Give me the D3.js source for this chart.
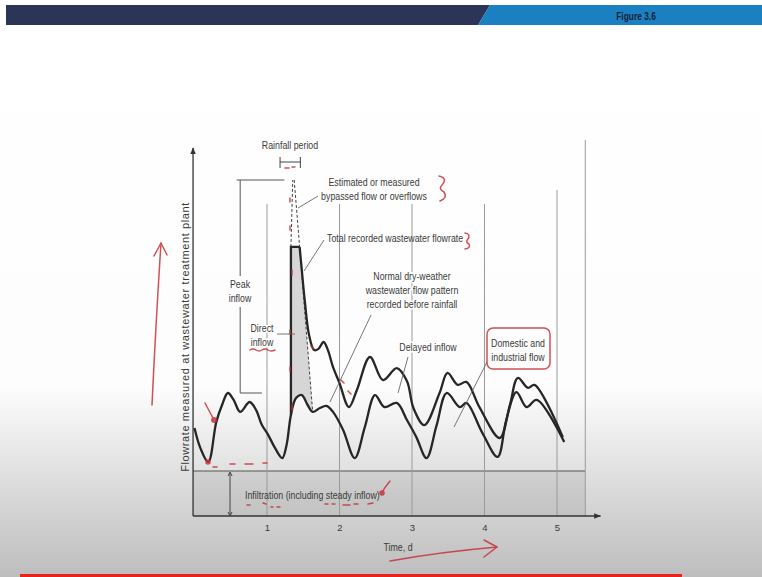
<!DOCTYPE html>
<html>
<head>
<meta charset="utf-8">
<script src="https://cdn.jsdelivr.net/npm/d3@7"></script>
<style>
  html, body { margin: 0; padding: 0; background: #fff; }
  svg { display: block; }
  .lbl { font-family: "Liberation Sans", Arial, sans-serif; font-size: 10.5px; fill: #3a3a3a; }
  .tick text { font-family: "Liberation Sans", Arial, sans-serif; font-size: 9.5px; fill: #3a3a3a; }
</style>
</head>
<body>
<svg id="chart" width="762" height="577"></svg>
<script>
// ---- data (time in days, flow in relative units) ----
const dayTicks = [1, 2, 3, 4, 5];

// dry-weather pattern (lower curve)
const dryTime = [0, 0.08, 0.19, 0.30, 0.38, 0.46, 0.54, 0.63, 0.76, 0.85, 0.93, 1.01, 1.11, 1.21, 1.27, 1.33,
  1.40, 1.48, 1.56, 1.63, 1.73, 1.82, 1.91, 2.05, 2.21, 2.35, 2.49, 2.62, 2.79, 2.93, 3.06, 3.20, 3.34,
  3.48, 3.66, 3.75, 3.97, 4.18, 4.30, 4.44, 4.58, 4.72, 5.10];
const dryFlow = [2.93, 2.27, 1.80, 3.13, 3.70, 4.10, 3.87, 3.47, 3.80, 3.53, 3.03, 2.73, 2.27, 1.93, 2.37, 3.37,
  3.93, 4.03, 3.70, 3.47, 3.60, 3.67, 3.47, 2.87, 1.93, 2.97, 4.03, 3.63, 3.77, 3.20, 2.63, 1.93, 3.03,
  4.10, 3.63, 3.77, 2.77, 1.97, 3.20, 4.13, 3.63, 3.87, 2.47];

// total recorded flowrate (upper curve); first three points form the storm rise
const totalTime = [1.33, 1.33, 1.45, 1.48, 1.52, 1.58, 1.65, 1.71, 1.78, 1.84, 1.91, 2.00, 2.13, 2.24, 2.42,
  2.60, 2.79, 2.93, 3.02, 3.17, 3.38, 3.49, 3.63, 3.75, 3.93, 4.21, 4.35, 4.46, 4.60, 4.69, 5.08];
const totalFlow = [3.37, 8.97, 8.97, 8.20, 7.20, 6.03, 5.53, 5.57, 5.80, 5.53, 4.97, 4.43, 3.63, 4.20, 5.30,
  4.53, 4.93, 4.50, 3.60, 3.03, 4.10, 4.77, 4.37, 4.47, 3.63, 2.60, 3.70, 4.60, 4.27, 4.37, 2.63];

// estimated peak including bypassed flow
const bypassTime = [1.33, 1.355, 1.375, 1.45];
const bypassFlow = [8.97, 11.2, 11.2, 8.97];
// dry-weather baseline assumed under the storm rise
const recessionTime = [1.45, 1.63];
const recessionFlow = [8.97, 3.47];

const infiltrationFlow = 1.5;
const rainPeriod = [1.18, 1.46];
const peakInflowTime = 0.63;
const peakInflowRange = [4.1, 11.2];

// ---- layout ----
const W = 762, H = 577;
const NARROW = 0.84;   // horizontal squeeze giving the condensed lettering
const x = d3.scaleLinear().domain([0, 5]).range([194.5, 557]);
const y = d3.scaleLinear().domain([0, 12]).range([516, 156]);
const xLeft = x(-0.02), xRight = x(5.39);

const svg = d3.select("#chart");
const defs = svg.append("defs");

const bg = defs.append("linearGradient").attr("id", "bg")
  .attr("gradientUnits", "userSpaceOnUse").attr("x1", 0).attr("x2", 0).attr("y1", 0).attr("y2", H);
bg.append("stop").attr("offset", 0).attr("stop-color", "#ffffff");
bg.append("stop").attr("offset", 0.67).attr("stop-color", "#fdfdfd");
bg.append("stop").attr("offset", 1).attr("stop-color", "#bdbdbd");

defs.append("marker").attr("id", "arrow").attr("viewBox", "0 0 10 10")
  .attr("refX", 9).attr("refY", 5).attr("markerWidth", 7).attr("markerHeight", 7)
  .attr("markerUnits", "userSpaceOnUse").attr("orient", "auto")
  .append("path").attr("d", "M0,1 L10,5 L0,9 Z").attr("fill", "#333");

svg.append("rect").attr("width", W).attr("height", H).attr("fill", "url(#bg)");

// header banner
svg.append("polygon").attr("points", "6,5 490,5 478,25 6,25").attr("fill", "#2b3557");
svg.append("polygon").attr("points", "490,5 762,5 762,25 478,25").attr("fill", "#1b80c2");
svg.append("text").attr("transform", `translate(636,20) scale(0.8,1)`).attr("text-anchor", "middle")
  .attr("font-family", "'Liberation Sans', Arial, sans-serif")
  .attr("font-weight", "bold").attr("font-size", 10.5).attr("fill", "#18203a").text("Figure 3.6");

// bottom bar
svg.append("rect").attr("x", 20).attr("y", 574).attr("width", 662).attr("height", 3).attr("fill", "#e8231e");

const g = svg.append("g");

// infiltration band
g.append("rect").attr("x", xLeft).attr("y", y(infiltrationFlow))
  .attr("width", xRight - xLeft).attr("height", y(0) - y(infiltrationFlow))
  .attr("fill", "#000").attr("fill-opacity", 0.07);
g.append("line").attr("x1", xLeft).attr("x2", xRight).attr("y1", y(infiltrationFlow)).attr("y2", y(infiltrationFlow))
  .attr("stroke", "#555").attr("stroke-width", 1.2);

// day grid lines
g.selectAll(".grid").data(dayTicks).join("line").attr("class", "grid")
  .attr("x1", d => x(d)).attr("x2", d => x(d))
  .attr("y1", y(0)).attr("y2", d => d === 5 ? y(10.87) : y(10.4))
  .attr("stroke", "#9a9a9a").attr("stroke-width", 1);
// right frame
g.append("line").attr("x1", xRight).attr("x2", xRight).attr("y1", y(0)).attr("y2", y(12.53))
  .attr("stroke", "#9a9a9a").attr("stroke-width", 1);

// axes
g.append("line").attr("x1", xLeft).attr("x2", xLeft).attr("y1", y(0)).attr("y2", y(12.27))
  .attr("stroke", "#333").attr("stroke-width", 1.3).attr("marker-end", "url(#arrow)");
g.append("line").attr("x1", xLeft).attr("x2", x(5.6)).attr("y1", y(0)).attr("y2", y(0))
  .attr("stroke", "#333").attr("stroke-width", 1.3).attr("marker-end", "url(#arrow)");

const xAxis = g.append("g").attr("transform", `translate(0,${y(0)})`)
  .call(d3.axisBottom(x).tickValues(dayTicks).tickSize(0).tickPadding(8.5).tickFormat(d3.format("d")));
xAxis.select(".domain").remove();

// infiltration dimension
g.append("line").attr("x1", x(0.49)).attr("x2", x(0.49)).attr("y1", y(infiltrationFlow) + 2).attr("y2", y(0) - 1)
  .attr("stroke", "#444").attr("stroke-width", 1);
g.append("path").attr("d", `M${x(0.49) - 2},${y(infiltrationFlow) + 5} L${x(0.49)},${y(infiltrationFlow) + 1} L${x(0.49) + 2},${y(infiltrationFlow) + 5}`)
  .attr("fill", "none").attr("stroke", "#444");
g.append("path").attr("d", `M${x(0.49) - 2},${y(0) - 4} L${x(0.49)},${y(0)} L${x(0.49) + 2},${y(0) - 4}`)
  .attr("fill", "none").attr("stroke", "#444");

// direct inflow area
const dryPts = dryTime.map((t, i) => [t, dryFlow[i]]);
const underStorm = dryPts.filter(p => p[0] >= 1.33 && p[0] <= 1.63).reverse();
const areaPts = [[1.33, totalFlow[0]], [1.33, totalFlow[1]], [1.45, totalFlow[2]], [1.63, recessionFlow[1]]].concat(underStorm);
g.append("path").attr("d", d3.line().x(d => x(d[0])).y(d => y(d[1]))(areaPts) + "Z")
  .attr("fill", "#d6d6d6");

const smooth = d3.line().x(d => x(d[0])).y(d => y(d[1])).curve(d3.curveCatmullRom.alpha(0.5));
const straight = d3.line().x(d => x(d[0])).y(d => y(d[1]));

// dashed estimates
const bypassPts = bypassTime.map((t, i) => [t, bypassFlow[i]]);
g.append("path").attr("d", straight(bypassPts.slice(0, 2))).attr("fill", "none")
  .attr("stroke", "#444").attr("stroke-width", 1).attr("stroke-dasharray", "3,2");
g.append("path").attr("d", straight(bypassPts.slice(2))).attr("fill", "none")
  .attr("stroke", "#444").attr("stroke-width", 1).attr("stroke-dasharray", "3,2");
g.append("path").attr("d", straight(recessionTime.map((t, i) => [t, recessionFlow[i]]))).attr("fill", "none")
  .attr("stroke", "#444").attr("stroke-width", 1).attr("stroke-dasharray", "3,2");

// curves
const totalPts = totalTime.map((t, i) => [t, totalFlow[i]]);
g.append("path").attr("d", smooth(dryPts)).attr("fill", "none")
  .attr("stroke", "#262626").attr("stroke-width", 2.3);
g.append("path").attr("d", straight(totalPts.slice(0, 3))).attr("fill", "none")
  .attr("stroke", "#262626").attr("stroke-width", 2.3).attr("stroke-linejoin", "miter");
g.append("path").attr("d", smooth(totalPts.slice(2))).attr("fill", "none")
  .attr("stroke", "#262626").attr("stroke-width", 2.3);

// rainfall period bracket
const ry = y(11.8);
g.append("line").attr("x1", x(rainPeriod[0])).attr("x2", x(rainPeriod[1])).attr("y1", ry).attr("y2", ry)
  .attr("stroke", "#444").attr("stroke-width", 1);
rainPeriod.forEach(t => g.append("line").attr("x1", x(t)).attr("x2", x(t)).attr("y1", ry - 5).attr("y2", ry + 6)
  .attr("stroke", "#444").attr("stroke-width", 1));

// peak inflow dimension
const pkX = x(peakInflowTime);
g.append("line").attr("x1", x(0.58)).attr("x2", x(1.24)).attr("y1", y(peakInflowRange[1])).attr("y2", y(peakInflowRange[1]))
  .attr("stroke", "#555").attr("stroke-width", 1);
g.append("line").attr("x1", pkX).attr("x2", pkX).attr("y1", y(peakInflowRange[1])).attr("y2", 276)
  .attr("stroke", "#555").attr("stroke-width", 1);
g.append("line").attr("x1", pkX).attr("x2", pkX).attr("y1", 307).attr("y2", y(peakInflowRange[0]))
  .attr("stroke", "#555").attr("stroke-width", 1);
g.append("line").attr("x1", pkX).attr("x2", x(0.93)).attr("y1", y(peakInflowRange[0])).attr("y2", y(peakInflowRange[0]))
  .attr("stroke", "#555").attr("stroke-width", 1);

// leader lines
const leaders = [
  [298, 208, 318, 196],
  [304, 271, 324, 240],
  [371, 315, 330, 402],
  [408, 357, 398, 393],
  [487, 362, 454, 427],
  [277, 334, 295, 334]
];
g.selectAll(".leader").data(leaders).join("line").attr("class", "leader")
  .attr("x1", d => d[0]).attr("y1", d => d[1]).attr("x2", d => d[2]).attr("y2", d => d[3])
  .attr("stroke", "#666").attr("stroke-width", 0.9);

// labels
function label(lines, cx, by, anchor, halo) {
  const t = g.append("text").attr("class", "lbl").attr("text-anchor", anchor || "middle")
    .attr("transform", `translate(${cx},${by}) scale(${NARROW},1)`);
  if (halo) t.attr("stroke", "#fff").attr("stroke-width", 3).attr("paint-order", "stroke");
  lines.forEach((s, i) => t.append("tspan").attr("x", 0).attr("y", i * 14).text(s));
  return t;
}
label(["Rainfall period"], 290, 149);
label(["Estimated or measured", "bypassed flow or overflows"], 374, 186);
label(["Total recorded wastewater flowrate"], 327, 242, "start");
label(["Normal dry-weather", "wastewater flow pattern", "recorded before rainfall"], 412, 280, "middle", true);
label(["Peak", "inflow"], 240, 288);
label(["Direct", "inflow"], 262, 332, "middle", true);
label(["Delayed inflow"], 428, 351, "middle", true);
label(["Domestic and", "industrial flow"], 518, 347);
label(["Infiltration (including steady inflow)"], 245, 499, "start");
label(["Time, d"], 398, 551);

g.append("text").attr("transform", "translate(189,337) rotate(-90)")
  .attr("text-anchor", "middle").attr("font-family", "'Liberation Sans', Arial, sans-serif")
  .attr("font-size", 11).attr("letter-spacing", 0.6).attr("fill", "#3a3a3a")
  .text("Flowrate measured at wastewater treatment plant");

// hand-drawn red ink
const ink = svg.append("g").attr("fill", "none").attr("stroke", "#c8323c")
  .attr("stroke-width", 1.5).attr("stroke-linecap", "round").attr("stroke-linejoin", "round").attr("opacity", 0.85);
[
  "M152,405 Q156,320 161,243", "M154,256 L161,243 L167,255",
  "M390,561 Q440,552 497,547", "M484,540 L497,547 L484,557",
  "M439,176 Q448,178 442,185 Q438,189 444,192 Q448,198 440,201",
  "M465,233 Q471,234 468,239 Q465,242 469,244 Q471,248 465,249",
  "M390,481 Q385,487 381,494",
  "M205,403 L214,420",
  "M213,467 L217,467", "M230,464 L235,464", "M245,464 L253,464", "M263,463 L267,463",
  "M247,505 L250,505", "M263,503 L266,504", "M271,507 L273,507", "M277,507 L280,507",
  "M325,504 L328,504", "M332,504 L335,504", "M343,505 L350,505", "M354,504 L358,504", "M368,504 L373,503",
  "M250,350 Q253,348 256,350 Q259,352 262,350 Q265,348 268,350 Q271,352 275,350",
  "M285,168 L289,168", "M292,167 L295,167",
  "M290,198 L290,202", "M290,226 L290,230", "M292,270 L292,275", "M290,330 L290,334", "M290,367 L290,371", "M292,405 L292,410",
  "M311,346 L314,349", "M341,380 L344,383", "M348,391 L351,394"
].forEach(d => ink.append("path").attr("d", d));
ink.append("rect").attr("x", 487).attr("y", 328).attr("width", 63).attr("height", 41).attr("rx", 6);
ink.append("circle").attr("cx", 382).attr("cy", 493).attr("r", 2).attr("fill", "#c8323c");
ink.append("circle").attr("cx", 214).attr("cy", 420).attr("r", 2.2).attr("fill", "#c8323c");
ink.append("circle").attr("cx", 208).attr("cy", 462).attr("r", 2).attr("fill", "#c8323c");
</script>
</body>
</html>
